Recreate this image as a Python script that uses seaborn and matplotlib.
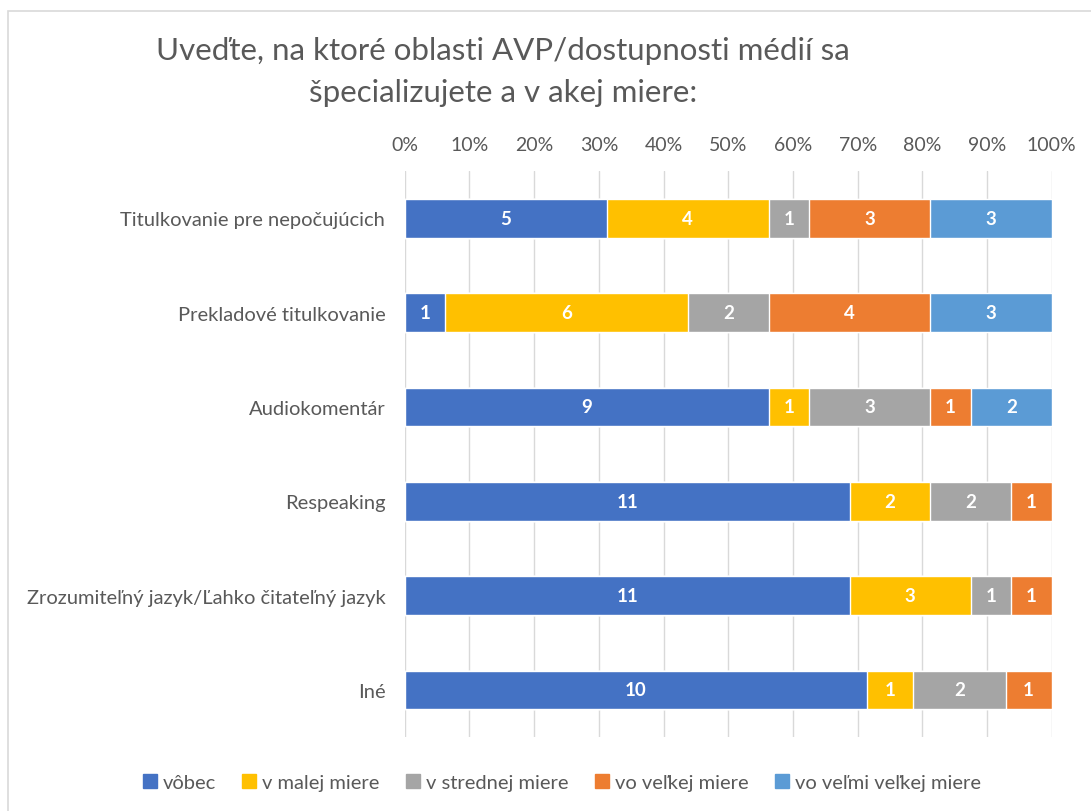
import numpy as np
import pandas as pd
import seaborn as sns
import matplotlib.pyplot as plt
from matplotlib.patches import Rectangle

# Categories and counts per answer level
categories = ["Titulkovanie pre nepočujúcich", "Prekladové titulkovanie", "Audiokomentár",
              "Respeaking", "Zrozumiteľný jazyk/Ľahko čitateľný jazyk", "Iné"]
levels = ["vôbec", "v malej miere", "v strednej miere", "vo veľkej miere", "vo veľmi veľkej miere"]
vobec = [5, 1, 9, 11, 11, 10]
malej = [4, 6, 1, 2, 3, 1]
strednej = [1, 2, 3, 2, 1, 2]
velkej = [3, 4, 1, 1, 1, 1]
velmi_velkej = [3, 3, 2, 0, 0, 0]
colors = ["#4472C4", "#FFC000", "#A5A5A5", "#ED7D31", "#5B9BD5"]

sns.set_theme(style="white")
plt.rcParams['font.family'] = ['Lato', 'DejaVu Sans']

counts = np.array([vobec, malej, strednej, velkej, velmi_velkej], dtype=float)
totals = counts.sum(axis=0)
pct = counts / totals * 100
cum = np.cumsum(pct, axis=0)

fig = plt.figure(figsize=(10.91, 8.12), dpi=100)
ax = fig.add_axes([0.371, 0.091, 0.593, 0.697])

# Draw stacked bars from the outermost segment inwards
for i in range(len(levels) - 1, -1, -1):
    df = pd.DataFrame({"cat": categories, "val": cum[i]})
    sns.barplot(data=df, y="cat", x="val", color=colors[i], width=0.41,
                saturation=1, ax=ax, orient="h")

# Value labels
for i in range(len(levels)):
    for j in range(len(categories)):
        if counts[i, j] > 0:
            start = cum[i, j] - pct[i, j]
            ax.text(start + pct[i, j] / 2, j, str(int(counts[i, j])), ha="center",
                    va="center", color="white", fontsize=13.5, fontweight="bold")

ax.set_xlim(0, 100)
ax.set_ylim(5.5, -0.5)
ax.set_xticks(np.arange(0, 101, 10))
ax.set_xticklabels([f"{t}%" for t in range(0, 101, 10)], color="#595959", fontsize=14)
ax.xaxis.tick_top()
ax.tick_params(axis="x", length=0, pad=13)
ax.tick_params(axis="y", length=0, pad=14, labelsize=14.5, labelcolor="#595959")
ax.set_xlabel("")
ax.set_ylabel("")
ax.grid(axis="x", color="#D9D9D9", linewidth=1)
ax.set_axisbelow(True)
for s in ax.spines.values():
    s.set_visible(False)

fig.text(0.461, 0.937, "Uveďte, na ktoré oblasti AVP/dostupnosti médií sa",
         ha="center", va="center", fontsize=22.5, color="#595959")
fig.text(0.461, 0.885, "špecializujete a v akej miere:",
         ha="center", va="center", fontsize=22.5, color="#595959")

handles = [Rectangle((0, 0), 1, 1, color=c) for c in colors]
fig.legend(handles, levels, loc="center", bbox_to_anchor=(0.515, 0.035), ncol=5,
           frameon=False, fontsize=14.5, handlelength=0.7, handleheight=0.7,
           handletextpad=0.3, columnspacing=1.3, labelcolor="#595959")

fig.patches.append(Rectangle((8 / 1091, -0.1), 1.1, 1 - 12 / 812 + 0.1,
                             transform=fig.transFigure, fill=False,
                             edgecolor="#D9D9D9", linewidth=1.2))

fig.savefig("out.png", dpi=100)
